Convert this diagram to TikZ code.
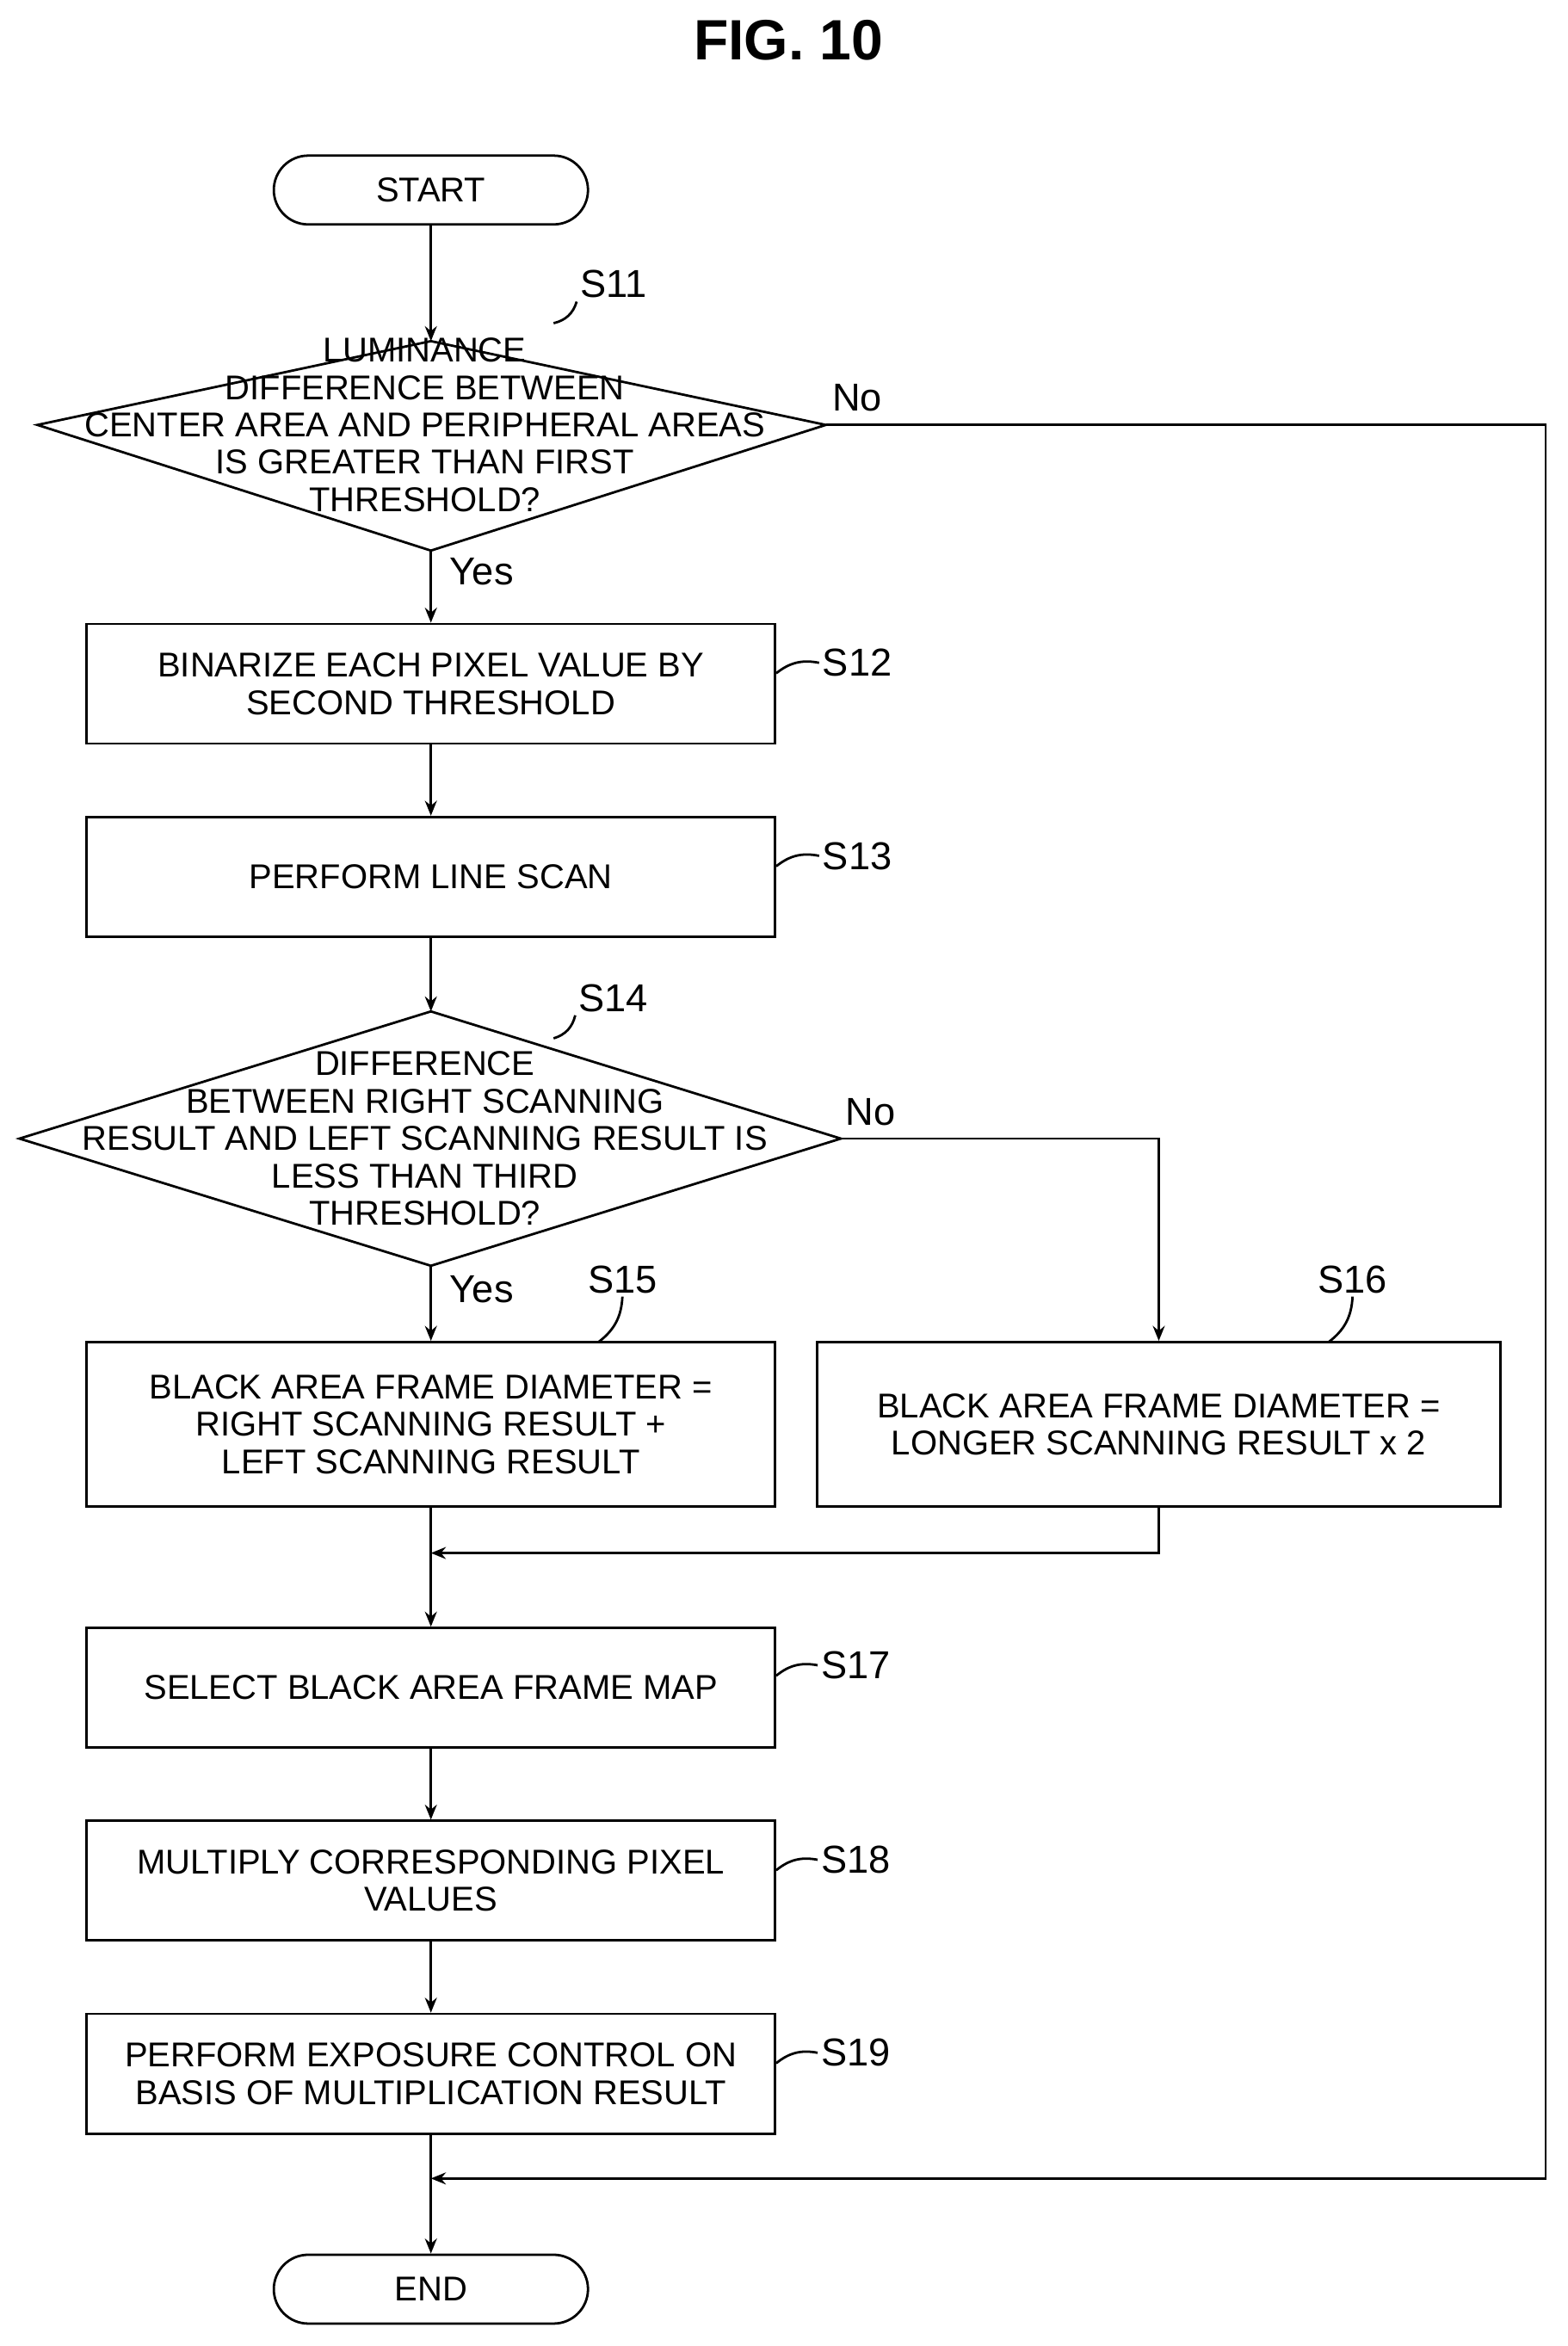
\documentclass[tikz,border=0pt]{standalone}
\usepackage{fontspec}
\setmainfont{Liberation Sans}
\usetikzlibrary{arrows.meta}
\begin{document}
\begin{tikzpicture}[x=0.5pt,y=-0.5pt,
  box/.style={draw,line width=0.8pt,minimum width=230pt,minimum height=40pt,align=center,font=\fontsize{11.5}{12.5}\selectfont,inner sep=0pt},
  term/.style={draw,line width=0.8pt,rounded corners=11.5pt,minimum width=105pt,minimum height=23pt,font=\fontsize{11.5}{12.5}\selectfont,inner sep=0pt},
  txt/.style={align=center,font=\fontsize{11.5}{12.5}\selectfont,inner sep=0pt},
  lab/.style={font=\fontsize{13}{14}\selectfont,inner sep=1pt},
  arr/.style={line width=0.8pt,-{Stealth[length=5pt,width=4pt]}},
  ln/.style={line width=0.8pt}]
\useasboundingbox (0,0) rectangle (1048,1568);
\node[font=\bfseries\fontsize{19}{20}\selectfont] (title) at (527,27) {FIG. 10};
\node[term] (start) at (288,127) {START};
% S11 diamond
\coordinate (d1t) at (288,228); \coordinate (d1b) at (288,368);
\coordinate (d1l) at (25,284); \coordinate (d1r) at (552,284);
\draw[ln] (d1t)--(d1r)--(d1b)--(d1l)--cycle;
\node[txt] (t11) at (284,284) {LUMINANCE\\DIFFERENCE BETWEEN\\CENTER AREA AND PERIPHERAL AREAS\\IS GREATER THAN FIRST\\THRESHOLD?};
\node[lab] (l11) at (410,190) {S11};
\node[box] (s12) at (288,457) {BINARIZE EACH PIXEL VALUE BY\\SECOND THRESHOLD};
\node[box] (s13) at (288,586) {PERFORM LINE SCAN};
\coordinate (d2t) at (288,676); \coordinate (d2b) at (288,846);
\coordinate (d2l) at (13,761); \coordinate (d2r) at (562,761);
\draw[ln] (d2t)--(d2r)--(d2b)--(d2l)--cycle;
\node[txt] (t14) at (284,761) {DIFFERENCE\\BETWEEN RIGHT SCANNING\\RESULT AND LEFT SCANNING RESULT IS\\LESS THAN THIRD\\THRESHOLD?};
\node[lab] (l14) at (410,667) {S14};
\node[box,minimum height=55pt] (s15) at (288,952) {BLACK AREA FRAME DIAMETER =\\RIGHT SCANNING RESULT +\\LEFT SCANNING RESULT};
\node[box,minimum width=228.5pt,minimum height=55pt] (s16) at (774.5,952) {BLACK AREA FRAME DIAMETER =\\LONGER SCANNING RESULT x 2};
\node[box] (s17) at (288,1128) {SELECT BLACK AREA FRAME MAP};
\node[box] (s18) at (288,1257) {MULTIPLY CORRESPONDING PIXEL\\VALUES};
\node[box] (s19) at (288,1386) {PERFORM EXPOSURE CONTROL ON\\BASIS OF MULTIPLICATION RESULT};
\node[term] (end) at (288,1530) {END};
% labels
\node[lab] (l12) at (573,443) {S12};
\node[lab] (l13) at (573,572) {S13};
\node[lab] (l15) at (416,855) {S15};
\node[lab] (l16) at (904,855) {S16};
\node[lab] (l17) at (572,1113) {S17};
\node[lab] (l18) at (572,1243) {S18};
\node[lab] (l19) at (572,1372) {S19};
\node[lab] (no1) at (573,266) {No};
\node[lab] (yes1) at (322,382) {Yes};
\node[lab] (no2) at (582,743) {No};
\node[lab] (yes2) at (322,862) {Yes};
% leaders
\draw[ln] (370,216) to[bend right=30] (l11.south west);
\draw[ln] (370,694) to[bend right=30] (l14.south west);
\draw[ln] (s12.east|-0,450) to[bend left=25] (l12.west);
\draw[ln] (s13.east|-0,579) to[bend left=25] (l13.west);
\draw[ln] (s17.east|-0,1120) to[bend left=25] (l17.west);
\draw[ln] (s18.east|-0,1250) to[bend left=25] (l18.west);
\draw[ln] (s19.east|-0,1379) to[bend left=25] (l19.west);
\draw[ln] (400,897) to[bend right=25] (l15.south);
\draw[ln] (888,897) to[bend right=25] (l16.south);
% arrows
\draw[arr] (start) -- (d1t);
\draw[arr] (d1b) -- (s12);
\draw[arr] (s12) -- (s13);
\draw[arr] (s13) -- (d2t);
\draw[arr] (d2b) -- (s15);
\draw[arr] (d2r) -| (s16.north);
\coordinate (m1) at (288,1038);
\draw[arr] (s16.south) |- (m1);
\draw[arr] (s15) -- (s17);
\draw[arr] (s17) -- (s18);
\draw[arr] (s18) -- (s19);
\coordinate (m2) at (288,1456);
\draw[arr] (d1r) -- (1033,284) -- (1033,1456) -- (m2);
\draw[arr] (s19) -- (end);
\end{tikzpicture}
\end{document}
